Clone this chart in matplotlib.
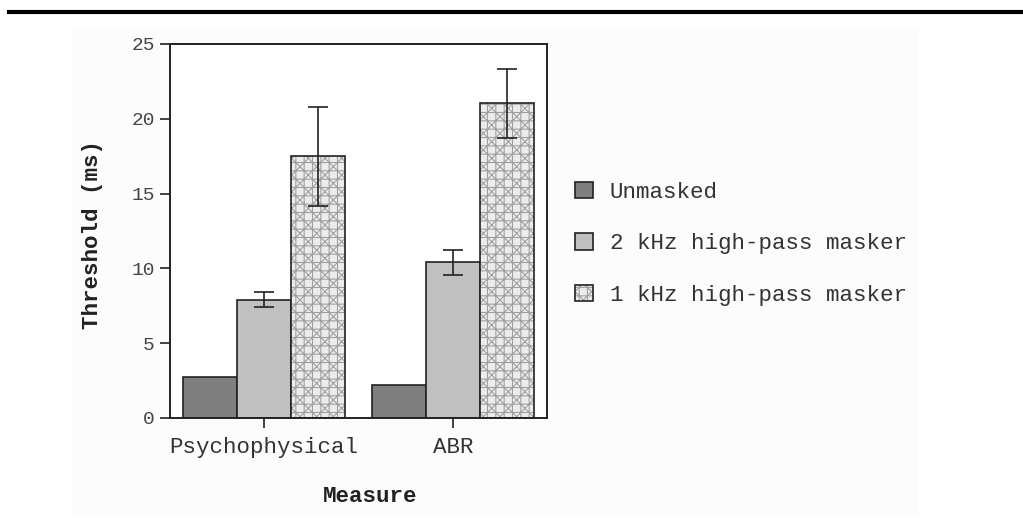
import matplotlib
matplotlib.use("Agg")
import matplotlib.pyplot as plt
from matplotlib.patches import Rectangle
from matplotlib.lines import Line2D
import numpy as np

plt.rcParams['hatch.linewidth'] = 0.8

measures = ['Psychophysical', 'ABR']
conditions = ['Unmasked', '2 kHz high-pass masker', '1 kHz high-pass masker']
unmasked = [2.75, 2.2]
hp2k = [7.9, 10.4]
hp2k_err = [0.5, 0.85]
hp1k = [17.5, 21.05]
hp1k_err = [3.3, 2.3]

mono = 'Liberation Mono'
fs = 16.2

fig = plt.figure(figsize=(10.23, 5.19), dpi=100)
fig.patch.set_facecolor('white')
bg = Rectangle((73 / 1023, 4 / 519), (918 - 73) / 1023, (519 - 28 - 4) / 519,
               transform=fig.transFigure, facecolor='#fcfcfc', edgecolor='none', zorder=-10)
fig.add_artist(bg)
fig.add_artist(Line2D([9 / 1023, 1], [1 - 12 / 519, 1 - 12 / 519],
                      transform=fig.transFigure, color='black', linewidth=3))

ax = fig.add_axes([170 / 1023, 101 / 519, 377 / 1023, 374 / 519])
ax.set_zorder(1)
ax.set_facecolor('white')

x = np.arange(len(measures))
w = 0.286
ax.bar(x - w, unmasked, w, color='#7f7f7f', edgecolor='#222222', linewidth=1.2, label=conditions[0])
ax.bar(x, hp2k, w, color='#c0c0c0', edgecolor='#222222', linewidth=1.2, label=conditions[1])
ax.bar(x + w, hp1k, w, color='#ececec', edgecolor='#222222', linewidth=1.2,
       hatch='++xx', label=conditions[2])
for b in ax.patches[-2:]:
    b._hatch_color = matplotlib.colors.to_rgba('#a0a0a0')

ax.errorbar(x, hp2k, yerr=hp2k_err, fmt='none', ecolor='#222222', elinewidth=1.2,
            capsize=7, capthick=1.2)
ax.errorbar(x + w, hp1k, yerr=hp1k_err, fmt='none', ecolor='#222222', elinewidth=1.2,
            capsize=7, capthick=1.2)

ax.set_xlim(-0.497, 1.498)
ax.set_ylim(0, 25)
ax.set_yticks([0, 5, 10, 15, 20, 25])
ax.set_xticks(x)
ax.set_xticklabels(measures, fontfamily=mono, fontsize=fs, color='#333333')
for lab in ax.get_yticklabels():
    lab.set_fontfamily(mono)
    lab.set_fontsize(14)
    lab.set_color('#444444')
ax.tick_params(axis='both', direction='out', length=7, width=1.2, color='#222222')
ax.tick_params(axis='x', pad=7)
ax.tick_params(axis='y', pad=4)
for s in ax.spines.values():
    s.set_linewidth(1.4)
    s.set_color('#222222')

ax.set_ylabel('Threshold (ms)', fontfamily=mono, fontweight='bold', fontsize=fs, color='#222222')
ax.yaxis.set_label_coords(-0.178, 0.49)
ax.set_xlabel('Measure', fontfamily=mono, fontweight='bold', fontsize=fs, color='#222222')
ax.xaxis.set_label_coords(0.53, -0.183)

leg = ax.legend(loc='upper left', bbox_to_anchor=(1.02, 0.686), frameon=False,
                prop={'family': mono, 'size': fs}, handlelength=0.8, handleheight=0.75,
                handletextpad=0.75, labelspacing=1.35)
for t in leg.get_texts():
    t.set_color('#333333')

fig.savefig('out.png', dpi=100, facecolor='white')
